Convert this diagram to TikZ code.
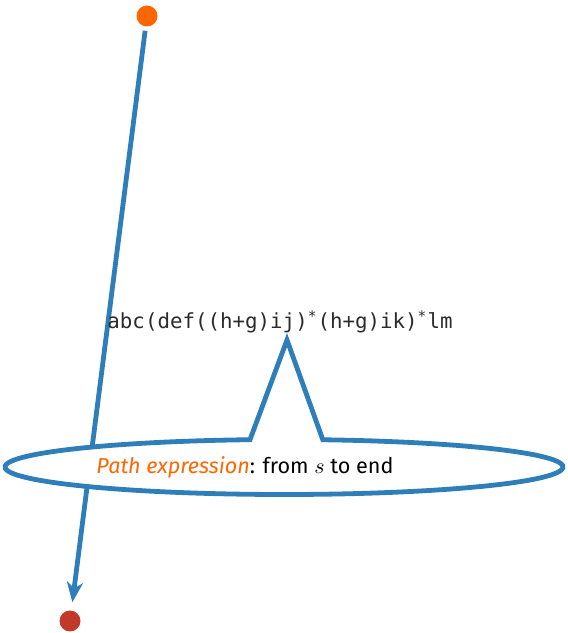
\documentclass[tikz,border=0pt]{standalone}
\usepackage{fontspec}
\setmainfont{Fira Sans}
\setmonofont{DejaVu Sans Mono}
\usetikzlibrary{calc,arrows.meta}
\usetikzlibrary{positioning}
\definecolor{pathblue}{HTML}{2E7EBA}
\definecolor{srcorange}{HTML}{FF6600}
\definecolor{dstred}{HTML}{C0392B}
\definecolor{exprgray}{HTML}{2B2B2B}

\begin{document}
\begin{tikzpicture}[x=0.5pt, y=0.5pt,
  dot/.style={circle, inner sep=0pt, minimum size=10.5pt},
  flow/.style={draw=pathblue, line width=2.4pt},
  callout/.style={draw=pathblue, line width=2.4pt, fill=white, line join=miter}
]
\useasboundingbox (0,0) rectangle (568,633);

\node[dot, fill=srcorange] (src) at (147, 617) {};
\node[dot, fill=dstred]    (dst) at (70, 12)   {};

% ---- path from s to the end ----
\draw[flow, -{Stealth[length=10pt, width=8pt, inset=3pt]}, shorten <=2pt, shorten >=4pt] (src) -- (dst);

% ---- callout bubble ----
\coordinate (tip) at (287, 293);
\draw[callout] ($(284,166)+(82:279 and 27.5)$)
  arc[start angle=82, end angle=-263, x radius=279, y radius=27.5]
  -- (tip) -- cycle;

\node[font=\ttfamily\fontsize{10.4}{12}\selectfont, text=exprgray] (expr) at (280, 311)
  {abc(def((h+g)ij)\textsuperscript{*}(h+g)ik)\textsuperscript{*}lm};
\node[font=\fontsize{10.8}{13}\selectfont] (label) at (245, 166)
  {\textcolor{srcorange}{\itshape Path expression}: from $s$ to end};
\end{tikzpicture}
\end{document}
